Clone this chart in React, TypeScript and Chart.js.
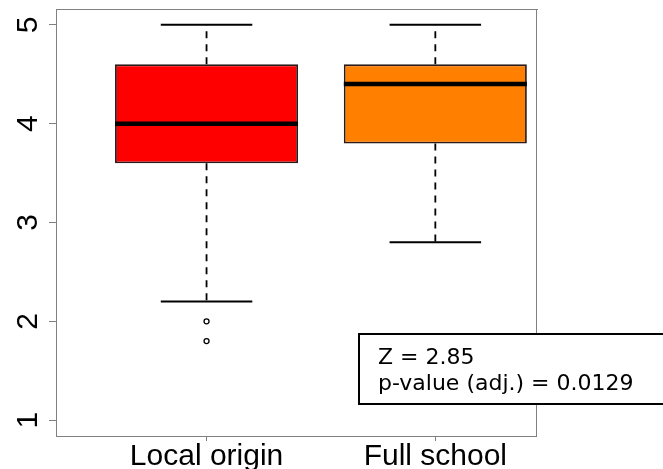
import React, { useEffect, useRef } from "react";
import { Chart, registerables } from "chart.js";

Chart.register(...registerables);

const categories = ["Local origin", "Full school"];
const q1Values = [3.6, 3.8];
const q3Values = [4.6, 4.6];
const medianValues = [4.0, 4.4];
const whiskerLow = [2.2, 2.8];
const whiskerHigh = [5.0, 5.0];
const outlierValues = [[2.0, 1.8], []];
const boxColors = ["#FF0000", "#FF8000"];
const yTickValues = [1, 2, 3, 4, 5];
const annotationLines = ["Z = 2.85", "p-value (adj.) = 0.0129"];

const AXIS_GRAY = "#808080";

const boxPlugin = {
  id: "boxExtras",
  beforeDatasetsDraw(chart: any) {
    const { ctx, chartArea } = chart;
    ctx.save();
    ctx.strokeStyle = AXIS_GRAY;
    ctx.lineWidth = 1;
    ctx.beginPath();
    ctx.moveTo(chartArea.left, chartArea.top + 0.5);
    ctx.lineTo(chartArea.right + 2, chartArea.top + 0.5);
    ctx.moveTo(chartArea.right + 0.5, chartArea.top);
    ctx.lineTo(chartArea.right + 0.5, chartArea.bottom);
    ctx.stroke();
    ctx.restore();
  },
  afterDatasetsDraw(chart: any) {
    const { ctx } = chart;
    const xs = chart.scales.x;
    const ys = chart.scales.y;
    const unit = Math.abs(xs.getPixelForValue(2) - xs.getPixelForValue(1));
    const boxHalf = unit * 0.4;
    const capHalf = boxHalf * 0.5;
    ctx.save();
    categories.forEach((_, i) => {
      const cx = xs.getPixelForValue(i + 1);
      // whiskers
      ctx.strokeStyle = "#000";
      ctx.lineWidth = 1.8;
      ctx.setLineDash([7, 6]);
      ctx.beginPath();
      ctx.moveTo(cx, ys.getPixelForValue(q3Values[i]));
      ctx.lineTo(cx, ys.getPixelForValue(whiskerHigh[i]));
      ctx.moveTo(cx, ys.getPixelForValue(q1Values[i]));
      ctx.lineTo(cx, ys.getPixelForValue(whiskerLow[i]));
      ctx.stroke();
      ctx.setLineDash([]);
      // caps
      ctx.lineWidth = 2;
      ctx.beginPath();
      const yh = ys.getPixelForValue(whiskerHigh[i]);
      const yl = ys.getPixelForValue(whiskerLow[i]);
      ctx.moveTo(cx - capHalf, yh);
      ctx.lineTo(cx + capHalf, yh);
      ctx.moveTo(cx - capHalf, yl);
      ctx.lineTo(cx + capHalf, yl);
      ctx.stroke();
      // median
      ctx.lineWidth = 4.5;
      ctx.beginPath();
      const ym = ys.getPixelForValue(medianValues[i]);
      ctx.moveTo(cx - boxHalf, ym);
      ctx.lineTo(cx + boxHalf, ym);
      ctx.stroke();
    });
    ctx.restore();
  },
  afterDraw(chart: any) {
    const { ctx } = chart;
    const xs = chart.scales.x;
    const ys = chart.scales.y;
    ctx.save();
    ctx.fillStyle = "#000";
    ctx.font = '30px "Liberation Sans", Arial, sans-serif';
    // y tick labels (rotated)
    yTickValues.forEach((v) => {
      const py = ys.getPixelForValue(v);
      ctx.save();
      ctx.translate(37, py);
      ctx.rotate(-Math.PI / 2);
      ctx.textAlign = "center";
      ctx.textBaseline = "alphabetic";
      ctx.fillText(String(v), 0, 0);
      ctx.restore();
    });
    // x tick labels
    ctx.textAlign = "center";
    ctx.textBaseline = "alphabetic";
    categories.forEach((c, i) => {
      ctx.fillText(c, xs.getPixelForValue(i + 1), 465);
    });
    // annotation box
    ctx.fillStyle = "#fff";
    ctx.fillRect(359, 334, 320, 70);
    ctx.strokeStyle = "#000";
    ctx.lineWidth = 2;
    ctx.strokeRect(359, 334, 320, 70);
    ctx.fillStyle = "#000";
    ctx.font = '22px "DejaVu Sans", Verdana, sans-serif';
    ctx.textAlign = "left";
    ctx.fillText(annotationLines[0], 378, 364);
    ctx.fillText(annotationLines[1], 378, 390);
    ctx.restore();
  },
};

export default function App() {
  const canvasRef = useRef<HTMLCanvasElement | null>(null);

  useEffect(() => {
    if (!canvasRef.current) return;
    const chart = new Chart(canvasRef.current, {
      type: "bar",
      data: {
        datasets: [
          {
            type: "bar",
            data: categories.map((_, i) => ({ x: i + 1, y: [q1Values[i], q3Values[i]] })) as any,
            backgroundColor: boxColors,
            borderColor: "#2a1a1a",
            borderWidth: 1.8,
            borderSkipped: false,
            categoryPercentage: 1,
            barPercentage: 0.8,
          } as any,
          {
            type: "scatter",
            data: outlierValues.flatMap((arr, i) => arr.map((v) => ({ x: i + 1, y: v }))) as any,
            pointRadius: 2.5,
            pointBorderWidth: 1.3,
            pointBackgroundColor: "rgba(0,0,0,0)",
            pointBorderColor: "#000",
            showLine: false,
          } as any,
        ],
      },
      options: {
        responsive: false,
        animation: false,
        devicePixelRatio: 1,
        layout: { padding: { top: 9, right: 127, left: 0, bottom: 0 } },
        plugins: { legend: { display: false }, tooltip: { enabled: false } },
        scales: {
          x: {
            type: "linear",
            min: 0.342,
            max: 2.44,
            offset: false,
            grid: { display: true, drawOnChartArea: false, drawTicks: true, tickLength: 5, color: AXIS_GRAY, offset: false },
            border: { display: true, color: AXIS_GRAY, width: 1 },
            ticks: { display: false },
            afterBuildTicks: (s: any) => {
              s.ticks = categories.map((_, i) => ({ value: i + 1 }));
            },
            afterFit: (s: any) => {
              s.height = 33;
            },
          },
          y: {
            type: "linear",
            min: 0.84,
            max: 5.16,
            grid: { display: true, drawOnChartArea: false, drawTicks: true, tickLength: 7, color: AXIS_GRAY },
            border: { display: true, color: AXIS_GRAY, width: 1 },
            ticks: { display: false },
            afterBuildTicks: (s: any) => {
              s.ticks = yTickValues.map((v) => ({ value: v }));
            },
            afterFit: (s: any) => {
              s.width = 56;
            },
          },
        },
      } as any,
      plugins: [boxPlugin],
    });
    return () => chart.destroy();
  }, []);

  return (
    <div style={{ position: "fixed", left: 0, top: 0, width: 663, height: 469, background: "#fff" }}>
      <canvas ref={canvasRef} width={663} height={469} style={{ width: 663, height: 469, display: "block" }} />
    </div>
  );
}
